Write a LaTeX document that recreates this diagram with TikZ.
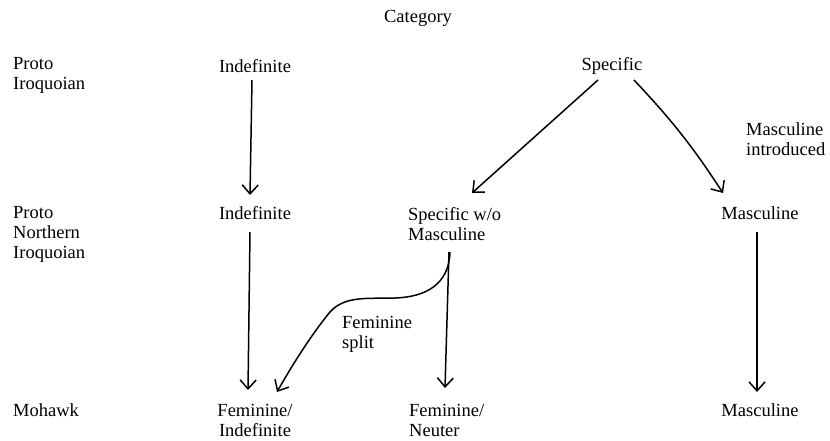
\documentclass[tikz,border=0pt]{standalone}
\usepackage{fontspec}
\setmainfont{Liberation Serif}
\usetikzlibrary{arrows.meta,calc}
\tikzset{
  lbl/.style={font=\fontsize{18.5}{20}\selectfont, inner sep=0pt},
  arr/.style={line width=1.5pt, -{Straight Barb[length=9pt,width=16pt,line width=1.5pt]}}
}
\begin{document}
\begin{tikzpicture}[x=1pt,y=-1pt]
\fill[white] (0,0) rectangle (830,440);
\useasboundingbox (0,0) rectangle (830,440);
% labels
\node[lbl] (cat) at (418,18) {Category};
\node[lbl,anchor=west,align=left] (pi) at (13,75) {Proto\\Iroquoian};
\node[lbl,anchor=west,align=left] (pni) at (13,234) {Proto\\Northern\\Iroquoian};
\node[lbl,anchor=west] (moh) at (13,410) {Mohawk};
% row 1
\node[lbl] (ind1) at (255,66) {Indefinite};
\node[lbl] (spec) at (612,66) {Specific};
\node[lbl,anchor=west,align=left] (mi) at (746,139) {Masculine\\introduced};
% row 2
\node[lbl] (ind2) at (255,213) {Indefinite};
\node[lbl,anchor=west,align=left] (sw) at (408,224) {Specific w/o\\Masculine};
\node[lbl] (masc1) at (760,213) {Masculine};
% row 3
\node[lbl,align=center] (fi) at (255,420) {Feminine/\\Indefinite};
\node[lbl,anchor=west,align=left] (fn) at (409,420) {Feminine/\\Neuter};
\node[lbl] (masc2) at (760,410) {Masculine};
\node[lbl,anchor=west,align=left] (fs) at (342,334) {Feminine\\split};
% connectors
\draw[arr] ($(ind1.center)+(-3,14)$) -- ($(ind2.center)+(-5,-18)$);
\draw[arr] ($(spec.center)+(-14,14)$) -- ($(sw.west)+(64,-31)$);
\draw[arr] ($(spec.center)+(22,14)$) to[bend left=5] ($(masc1.center)+(-37,-20)$);
\draw[arr] ($(ind2.center)+(-5,19)$) -- ($(fi.center)+(-7,-30)$);
\draw[arr] ($(sw.west)+(41,28)$) -- ($(fn.west)+(36,-32)$);
\draw[arr] ($(sw.west)+(42,28)$) .. controls (449,285) and (425,297) .. (395,298)
  .. controls (370,299) and (345,295) .. (330,312)
  .. controls (315,330) and (295,360) .. ($(fi.center)+(22,-28)$);
\draw[arr] ($(masc1.center)+(-3,19)$) -- ($(masc2.center)+(-3,-18)$);
\end{tikzpicture}
\end{document}
